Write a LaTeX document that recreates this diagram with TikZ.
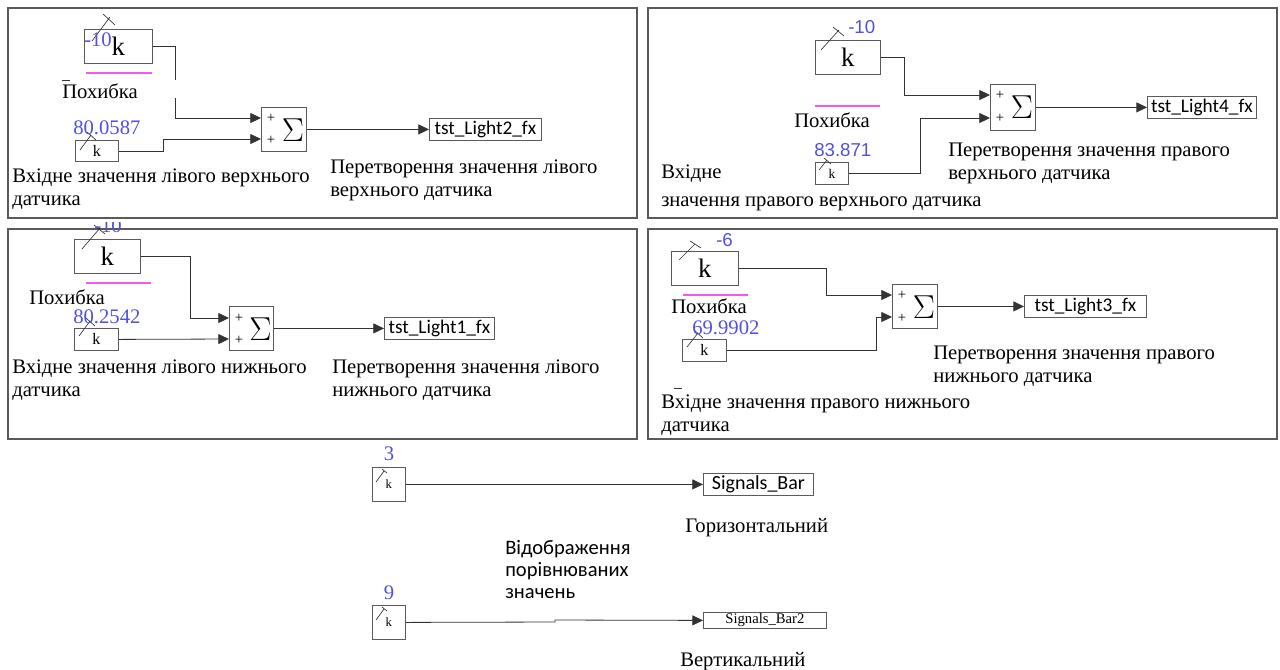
\documentclass[tikz,border=0pt]{standalone}
\usepackage{fontspec}
\setmainfont{Liberation Serif}
\newfontfamily\calib{Carlito}
\newfontfamily\lsans{Liberation Sans}
\usetikzlibrary{arrows.meta,calc}
\definecolor{valblue}{RGB}{80,80,225}
\definecolor{markpink}{RGB}{240,90,240}
\definecolor{framegray}{RGB}{90,90,90}
\begin{document}
\begin{tikzpicture}[x=0.75pt,y=-0.75pt,
  panel/.style={draw=framegray,line width=0.9pt},
  blk/.style={draw=framegray,line width=0.6pt,inner sep=0,anchor=north west},
  wire/.style={draw=black!80,line width=0.6pt},
  arr/.style={wire,-{Triangle[length=8pt,width=7.5pt]}},
  lbl/.style={anchor=base west,inner sep=0,font=\fontsize{15.5}{17}\selectfont},
  val/.style={anchor=west,inner sep=0,text=valblue,font=\fontsize{15.5}{17}\selectfont},
  vals/.style={val,font=\lsans\fontsize{14}{15}\selectfont},
  bigk/.style={font=\fontsize{20}{21}\selectfont},
  smk/.style={font=\fontsize{12}{13}\selectfont},
  sig/.style={font=\fontsize{25}{26}\selectfont,inner sep=0},
  plus/.style={font=\fontsize{11}{12}\selectfont,inner sep=0},
  outtag/.style={font=\calib\fontsize{14.5}{16}\selectfont},
  note/.style={anchor=base west,inner sep=0,font=\calib\fontsize{15.4}{17}\selectfont},
  pinkline/.style={draw=markpink,line width=1.2pt},
  slash/.style={draw=black!80,line width=0.5pt}
]
\useasboundingbox (0,0) rectangle (1280,669);

% ---------- panel frames ----------
\draw[panel] (8,8) rectangle (637,218);
\draw[panel] (648,8) rectangle (1277,218);
\draw[panel] (8,229) rectangle (637,439);
\draw[panel] (648,229) rectangle (1277,439);

% ---------- panel 1: left upper sensor ----------
\node[blk,minimum width=51pt,minimum height=25.5pt,bigk] (g1) at (84,29) {k};
\draw[slash] (g1.north west) ++(8,12) -- ++(18,-24) ++(-7,-3) -- ++(12,11);
\node[val] (g1v) at (84,40) {-10};
\draw[pinkline] (86,73) -- (152,73);
\draw[wire] (62,80) -- (70,80);
\node[lbl] (g1l) at (62,98) {Похибка};
\node[blk,minimum width=32.25pt,minimum height=15.75pt,smk] (i1) at (75,140) {k};
\draw[slash] (i1.north west) ++(5,10) -- ++(11,-15) ++(-4,-3) -- ++(9,8);
\node[val] (i1v) at (73,128) {80.0587};
\node[blk,minimum width=33.75pt,minimum height=33pt] (s1) at (261,107) {};
\node[sig] (s1g) at ($(s1.center)+(9,1)$) {$\Sigma$};
\node[plus] (s1a) at ($(s1.north west)+(10,11)$) {+};
\node[plus] (s1b) at ($(s1.north west)+(10,33)$) {+};
\coordinate (s1p1) at ($(s1.north west)+(0,11)$);
\coordinate (s1p2) at ($(s1.north west)+(0,32)$);
\node[blk,minimum width=84pt,minimum height=16.5pt,outtag] (o1) at (429,118) {tst\_Light2\_fx};
\coordinate (w1a) at (175,80);
\coordinate (w1b) at (175,98);
\draw[wire] (g1.east) -| (w1a);
\draw[arr] (w1b) |- (s1p1);
\draw[arr] (i1.east) -- ++(45,0) |- (s1p2);
\draw[arr] (s1.east) -- (o1.west);
\node[lbl] (t1a) at (12,182) {Вхідне значення лівого верхнього};
\node[lbl] (t1b) at (12,205) {датчика};
\node[lbl] (t1c) at (330,173) {Перетворення значення лівого};
\node[lbl] (t1d) at (330,196) {верхнього датчика};

% ---------- panel 2: right upper sensor ----------
\node[blk,minimum width=48.75pt,minimum height=25.5pt,bigk] (g2) at (815,40) {k};
\draw[slash] (g2.north west) ++(6,10) -- ++(18,-20) ++(-6,-3) -- ++(11,9);
\node[vals] (g2v) at (848,27) {-10};
\draw[pinkline] (815,106) -- (880,106);
\node[lbl] (g2l) at (794,127) {Похибка};
\node[blk,minimum width=24.75pt,minimum height=16.5pt,font=\fontsize{10}{11}\selectfont] (i2) at (815,162) {k};
\draw[slash] (i2.north west) ++(4,8) -- ++(8,-10) ++(-3,-2) -- ++(7,6);
\node[vals] (i2v) at (814,150) {83.871};
\node[blk,minimum width=33.75pt,minimum height=34.5pt] (s2) at (990,84) {};
\node[sig] (s2g) at ($(s2.center)+(9,0)$) {$\Sigma$};
\node[plus] (s2a) at ($(s2.north west)+(10,11)$) {+};
\node[plus] (s2b) at ($(s2.north west)+(10,34)$) {+};
\coordinate (s2p1) at ($(s2.north west)+(0,11)$);
\coordinate (s2p2) at ($(s2.north west)+(0,34)$);
\node[blk,minimum width=81.75pt,minimum height=16.5pt,outtag] (o2) at (1147,96) {tst\_Light4\_fx};
\draw[arr] (g2.east) -- ++(24,0) |- (s2p1);
\draw[arr] (i2.east) -- ++(72,0) |- (s2p2);
\draw[arr] (s2.east) -- (o2.west);
\node[lbl] (t2a) at (661,178) {Вхідне};
\node[lbl] (t2b) at (661,206) {значення правого верхнього датчика};
\node[lbl] (t2c) at (948,156) {Перетворення значення правого};
\node[lbl] (t2d) at (948,179) {верхнього датчика};

% ---------- panel 3: left lower sensor ----------
\node[blk,minimum width=49.5pt,minimum height=25.5pt,bigk] (g3) at (74,239) {k};
\draw[slash] (g3.north west) ++(8,10) -- ++(18,-21) ++(-6,-3) -- ++(11,9);
\begin{scope}
  \clip (0,222) rectangle (200,240);
  \node[val] (g3v) at (94,226) {-10};
\end{scope}
\draw[pinkline] (86,283) -- (151,283);
\node[lbl] (g3l) at (29,304) {Похибка};
\node[blk,minimum width=33pt,minimum height=16.5pt,smk] (i3) at (74,328) {k};
\draw[slash] (i3.north west) ++(5,8) -- ++(11,-15) ++(-4,-3) -- ++(9,8);
\node[val] (i3v) at (73,317) {80.2542};
\node[blk,minimum width=33pt,minimum height=33pt] (s3) at (229,306) {};
\node[sig] (s3g) at ($(s3.center)+(9,1)$) {$\Sigma$};
\node[plus] (s3a) at ($(s3.north west)+(10,12)$) {+};
\node[plus] (s3b) at ($(s3.north west)+(10,34)$) {+};
\coordinate (s3p1) at ($(s3.north west)+(0,12)$);
\coordinate (s3p2) at ($(s3.north west)+(0,33)$);
\node[blk,minimum width=82.5pt,minimum height=16.5pt,outtag] (o3) at (384,317) {tst\_Light1\_fx};
\draw[arr] (g3.east) -- ++(50,0) |- (s3p1);
\draw[arr] (i3.east) -- (s3p2);
\draw[arr] (s3.east) -- (o3.west);
\node[lbl] (t3a) at (12,373) {Вхідне значення лівого нижнього};
\node[lbl] (t3b) at (12,396) {датчика};
\node[lbl] (t3c) at (332,373) {Перетворення значення лівого};
\node[lbl] (t3d) at (332,396) {нижнього датчика};

% ---------- panel 4: right lower sensor ----------
\node[blk,minimum width=50.25pt,minimum height=25.5pt,bigk] (g4) at (671,251) {k};
\draw[slash] (g4.north west) ++(8,9) -- ++(16,-16) ++(-5,-3) -- ++(11,7);
\node[vals] (g4v) at (716,240) {-6};
\draw[pinkline] (683,295) -- (748,295);
\node[lbl] (g4l) at (671,313) {Похибка};
\node[blk,minimum width=33pt,minimum height=16.5pt,smk] (i4) at (682,339) {k};
\draw[slash] (i4.north west) ++(5,8) -- ++(11,-14) ++(-4,-3) -- ++(9,8);
\node[val] (i4v) at (692,328) {69.9902};
\node[blk,minimum width=33.75pt,minimum height=33pt] (s4) at (892,284) {};
\node[sig] (s4g) at ($(s4.center)+(9,1)$) {$\Sigma$};
\node[plus] (s4a) at ($(s4.north west)+(10,11)$) {+};
\node[plus] (s4b) at ($(s4.north west)+(10,34)$) {+};
\coordinate (s4p1) at ($(s4.north west)+(0,11)$);
\coordinate (s4p2) at ($(s4.north west)+(0,33)$);
\node[blk,minimum width=91.5pt,minimum height=16.5pt,outtag] (o4) at (1024,295) {tst\_Light3\_fx};
\draw[arr] (g4.east) -- ++(88,0) |- (s4p1);
\draw[arr] (i4.east) -- ++(150,0) |- (s4p2);
\draw[arr] (s4.east) -- (o4.west);
\node[lbl] (t4a) at (933,359) {Перетворення значення правого};
\node[lbl] (t4b) at (933,382) {нижнього датчика};
\draw[wire] (674,388) -- (682,388);
\node[lbl] (t4c) at (661,408) {Вхідне значення правого нижнього};
\node[lbl] (t4d) at (661,431) {датчика};

% ---------- bar display signals ----------
\node[blk,minimum width=24.75pt,minimum height=25.5pt,font=\fontsize{9.5}{10}\selectfont] (b1) at (372,467) {k};
\draw[slash] (b1.north west) ++(4,15) -- ++(8,-11) ++(-2,-2) -- ++(5,4);
\node[val,anchor=center] (b1v) at (389,454) {3};
\node[blk,minimum width=82.5pt,minimum height=16.5pt,font=\calib\fontsize{15}{16}\selectfont] (sb1) at (703,473) {Signals\_Bar};
\draw[arr] (b1.east) -- (sb1.west);
\node[lbl] (h1) at (685,532) {Горизонтальний};
\node[note] (d1) at (505,554) {Відображення};
\node[note] (d2) at (505,576) {порівнюваних};
\node[note] (d3) at (505,598) {значень};
\node[blk,minimum width=24.75pt,minimum height=25.5pt,font=\fontsize{9.5}{10}\selectfont] (b2) at (372,605) {k};
\draw[slash] (b2.north west) ++(4,15) -- ++(8,-11) ++(-2,-2) -- ++(5,4);
\node[val,anchor=center] (b2v) at (389,593) {9};
\node[blk,minimum width=92.25pt,minimum height=12pt,font=\fontsize{11}{12}\selectfont] (sb2) at (703,612) {Signals\_Bar2};
\draw[arr] (b2.east) -- (555,622) -- (555,620) -- (sb2.west);
\node[lbl] (h2) at (680,666) {Вертикальний};
\end{tikzpicture}
\end{document}
